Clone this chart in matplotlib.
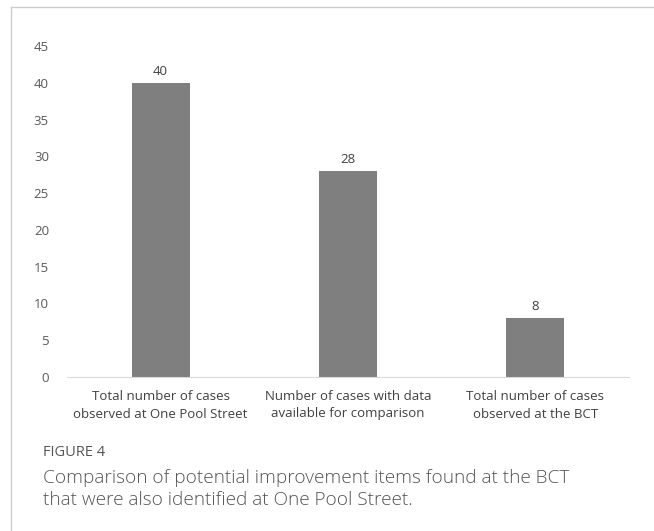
import matplotlib.pyplot as plt
from matplotlib.lines import Line2D

categorias = ['Total number of cases\nobserved at One Pool Street',
              'Number of cases with data\navailable for comparison',
              'Total number of cases\nobserved at the BCT']
valores = [40, 28, 8]
yticks = [0, 5, 10, 15, 20, 25, 30, 35, 40, 45]

plt.rcParams['font.family'] = ['Open Sans', 'DejaVu Sans']

fig = plt.figure(figsize=(6.54, 5.31), dpi=100)
ax = fig.add_axes([67 / 654, 1 - 377 / 531, 562 / 654, 331 / 531])

x = range(len(categorias))
barras = ax.bar(x, valores, width=0.31, color='#7f7f7f')
for b, v in zip(barras, valores):
    ax.text(b.get_x() + b.get_width() / 2, v + 0.7, str(v),
            ha='center', va='bottom', fontsize=9.5, color='#404040')

ax.set_xlim(-0.5, len(categorias) - 0.5)
ax.set_ylim(0, 45)
ax.set_yticks(yticks)
ax.set_xticks(list(x))
ax.set_xticklabels(categorias, fontsize=9.5, color='#404040', linespacing=1.5)
ax.tick_params(axis='y', labelsize=9.5, labelcolor='#595959', length=0, pad=13)
ax.tick_params(axis='x', length=0, pad=9)
for s in ['top', 'right', 'left']:
    ax.spines[s].set_visible(False)
ax.spines['bottom'].set_color('#d9d9d9')

# marco del panel
fig.add_artist(Line2D([11 / 654, 11 / 654], [0, 1 - 7 / 531], color='#cccccc', lw=1))
fig.add_artist(Line2D([11 / 654, 1], [1 - 7 / 531, 1 - 7 / 531], color='#cccccc', lw=1))

fig.text(43 / 654, 1 - 453 / 531, 'FIGURE 4', fontsize=10.5, color='#555555',
         va='center', fontweight='medium')
fig.text(43 / 654, 1 - 489 / 531,
         'Comparison of potential improvement items found at the BCT\n'
         'that were also identified at One Pool Street.',
         fontsize=13.7, color='#555555', va='center', linespacing=1.25,
         fontweight='light')

plt.savefig('out.png', dpi=100)
